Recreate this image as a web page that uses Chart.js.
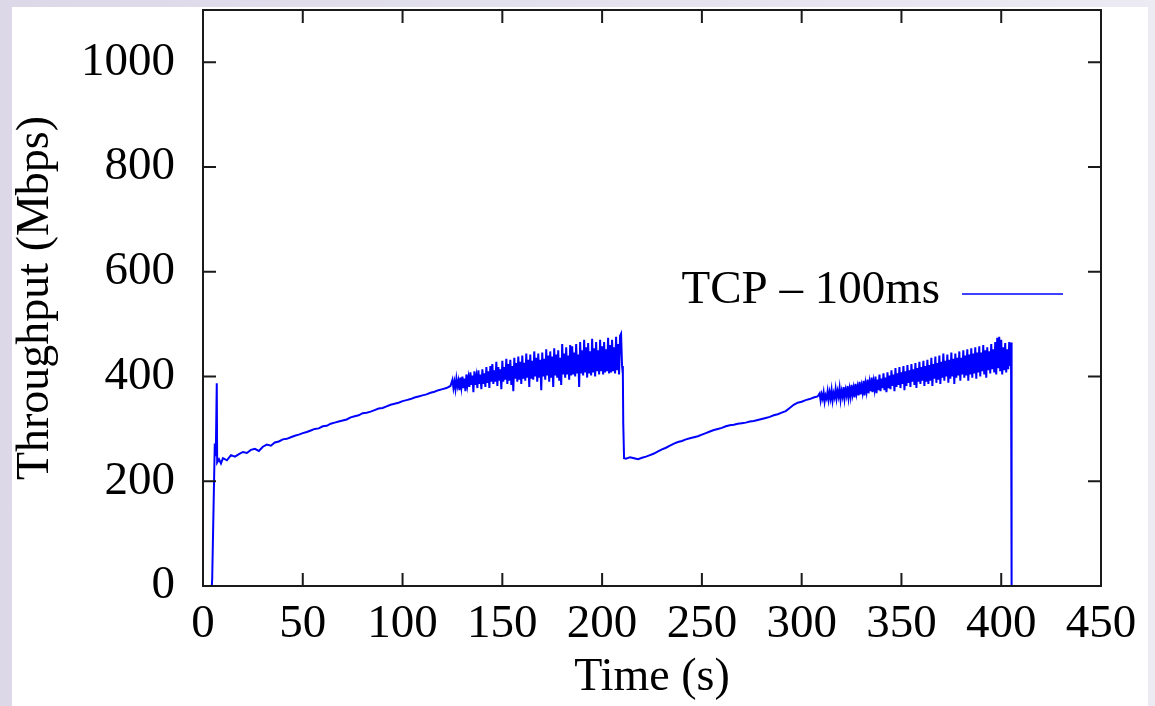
<!DOCTYPE html>
<html lang="en">
<head>
  <meta charset="UTF-8" />
  <title>TCP throughput</title>
  <script src="https://cdn.jsdelivr.net/npm/chart.js"></script>
  <style>
    body {
      margin: 0;
      padding: 0;
      width: 1155px;
      height: 706px;
      overflow: hidden;
      background: linear-gradient(90deg, #dcd8e8 0%, #e6e3ef 60%, #eceaf3 100%);
    }
    #paper {
      position: absolute;
      left: 12px;
      top: 7px;
      width: 1136px;
      height: 699px;
      background: #fff;
    }
    #chart {
      position: absolute;
      left: 0;
      top: 0;
    }
  </style>
</head>
<body>
  <div id="paper"></div>
  <canvas id="chart" width="1155" height="706"></canvas>

  <script>
    const seriesLabel = 'TCP \u2013 100ms';
    const xTicks = [0, 50, 100, 150, 200, 250, 300, 350, 400, 450];
    const yTicks = [0, 200, 400, 600, 800, 1000];

    // start-up spike (times in s, values in Mbps)
    const launchT = [4.4, 4.6, 5.9, 6.4, 6.9, 7.1, 8, 9];
    const launchV = [0, 12, 272, 248, 387, 236, 242, 234];

    // first slow ramp, every 2 s from t = 10 to 124
    const ramp1V = [
      244, 240, 250, 247, 252, 256, 254, 260, 262, 258, 266, 270, 268, 274, 276, 280, 281, 284, 287, 289,
      292, 294, 297, 300, 301, 305, 306, 310, 312, 314, 316, 318, 322, 324, 326, 330, 331, 333, 336, 339,
      340, 343, 346, 348, 350, 353, 355, 357, 360, 362, 364, 366, 369, 371, 374, 376, 378, 382
    ];

    // first noisy part, every 0.5 s from t = 125 to 209.5
    const noise1V = [
      394, 378, 390, 376, 396, 382, 392, 374, 398, 380,
      400, 378, 396, 372, 404, 384, 398, 380, 408, 384,
      402, 370, 410, 384, 400, 378, 412, 386, 404, 376,
      414, 386, 406, 380, 418, 388, 410, 378, 420, 390,
      424, 386, 412, 390, 428, 382, 418, 392, 414, 376,
      430, 390, 418, 394, 434, 386, 424, 392, 432, 384,
      420, 372, 436, 396, 426, 390, 438, 394, 428, 386,
      440, 396, 426, 392, 444, 398, 432, 380, 442, 396,
      430, 394, 448, 400, 436, 390, 444, 398, 432, 374,
      446, 400, 434, 394, 452, 402, 440, 390, 448, 398,
      438, 380, 454, 402, 442, 398, 450, 392, 436, 384,
      462, 404, 444, 398, 456, 404, 440, 394, 460, 402,
      458, 404, 446, 400, 462, 406, 442, 380, 466, 406,
      450, 402, 470, 408, 456, 398, 464, 406, 448, 402,
      472, 408, 454, 400, 466, 410, 450, 404, 470, 410,
      458, 404, 466, 408, 452, 410, 474, 406, 460, 408,
      470, 410, 456, 406, 476, 412, 462, 404, 478, 482
    ];

    // first drop
    const drop1T = [210, 210.4, 210.6, 211];
    const drop1V = [420, 405, 310, 244];

    // second slow ramp, every 2 s from t = 212 to 308
    const ramp2V = [
      243, 246, 244, 242, 245, 247, 250, 253, 257, 261, 264, 268, 272, 275, 277, 280,
      282, 284, 286, 289, 292, 295, 298, 300, 302, 305, 307, 308, 310, 311, 312, 314,
      315, 317, 319, 321, 323, 326, 328, 331, 334, 340, 346, 350, 352, 355, 357, 360, 362
    ];

    // second noisy part, every 0.5 s from t = 309 to 404.5
    const noise2V = [
      368, 354, 366, 358, 370, 352, 364, 358, 372, 356,
      370, 358, 374, 354, 368, 360, 376, 358, 372, 362,
      378, 356, 372, 362, 380, 358, 374, 364, 382, 360,
      376, 362, 384, 366, 378, 360, 386, 368, 380, 364,
      390, 366, 382, 370, 392, 364, 386, 372, 394, 368,
      388, 372, 398, 370, 390, 376, 400, 368, 394, 374,
      404, 372, 396, 378, 406, 374, 398, 370, 408, 378,
      402, 376, 412, 382, 404, 372, 416, 380, 406, 384,
      418, 378, 408, 386, 420, 374, 410, 382, 422, 388,
      412, 380, 424, 390, 414, 384, 426, 378, 416, 390,
      428, 386, 418, 392, 430, 382, 420, 390, 432, 386,
      422, 392, 436, 382, 424, 396, 438, 388, 426, 394,
      440, 386, 428, 398, 444, 392, 430, 400, 442, 388,
      432, 396, 446, 400, 434, 386, 444, 398, 436, 402,
      448, 392, 436, 404, 450, 398, 440, 402, 452, 392,
      442, 404, 454, 398, 444, 406, 456, 396, 446, 408,
      458, 400, 446, 410, 460, 404, 450, 398, 456, 412,
      448, 406, 462, 414, 452, 408, 466, 404, 474, 416,
      476, 410, 470, 404, 456, 412, 464, 408, 452, 414,
      466, 420
    ];

    // end of transfer
    const endT = [404.9, 405.1, 405.3];
    const endV = [465, 420, 0];

    function listed(ts, vs) {
      return ts.map((t, i) => ({ x: t, y: vs[i] }));
    }
    function sampled(start, step, vs) {
      return vs.map((v, i) => ({ x: start + i * step, y: v }));
    }

    const points = [].concat(
      listed(launchT, launchV),
      sampled(10, 2, ramp1V),
      sampled(125, 0.5, noise1V),
      listed(drop1T, drop1V),
      sampled(212, 2, ramp2V),
      sampled(309, 0.5, noise2V),
      listed(endT, endV)
    );

    const FONT = 'Liberation Serif';

    // gnuplot-style frame, inward ticks on all four sides, and legend sample
    const framePlugin = {
      id: 'frame',
      afterDatasetsDraw(chart) {
        const { ctx, chartArea: a, scales } = chart;
        const tl = 13;
        ctx.save();
        ctx.strokeStyle = '#1a1a1a';
        ctx.lineWidth = 2;
        ctx.beginPath();
        xTicks.forEach(v => {
          const px = scales.x.getPixelForValue(v);
          ctx.moveTo(px, a.bottom); ctx.lineTo(px, a.bottom - tl);
          ctx.moveTo(px, a.top); ctx.lineTo(px, a.top + tl);
        });
        yTicks.forEach(v => {
          const py = scales.y.getPixelForValue(v);
          ctx.moveTo(a.left, py); ctx.lineTo(a.left + tl, py);
          ctx.moveTo(a.right, py); ctx.lineTo(a.right - tl, py);
        });
        ctx.stroke();
        ctx.strokeRect(a.left, a.top, a.right - a.left, a.bottom - a.top);

        // legend
        const ds = chart.data.datasets[0];
        ctx.font = '47px "' + FONT + '"';
        ctx.fillStyle = '#000';
        ctx.textAlign = 'right';
        ctx.textBaseline = 'alphabetic';
        ctx.fillText(ds.label, 940, 303);
        ctx.strokeStyle = ds.borderColor;
        ctx.lineWidth = 1.5;
        ctx.beginPath();
        ctx.moveTo(962, 294);
        ctx.lineTo(1063, 294);
        ctx.stroke();
        ctx.restore();
      }
    };

    const ctx = document.getElementById('chart').getContext('2d');
    const chart = new Chart(ctx, {
      type: 'line',
      data: {
        datasets: [{
          label: seriesLabel,
          data: points,
          borderColor: '#0000ff',
          borderWidth: 2,
          pointRadius: 0,
          tension: 0,
          fill: false
        }]
      },
      options: {
        responsive: false,
        animation: false,
        layout: { padding: { left: 0, top: 10, right: 54, bottom: 0 } },
        plugins: {
          legend: { display: false },
          tooltip: { enabled: false }
        },
        scales: {
          x: {
            type: 'linear',
            min: 0,
            max: 450,
            afterBuildTicks: s => { s.ticks = xTicks.map(v => ({ value: v })); },
            afterFit: s => { s.height = 120; s.paddingLeft = 0; s.paddingRight = 0; },
            grid: { display: false, drawTicks: false },
            border: { display: false },
            ticks: {
              color: '#000',
              padding: 10,
              maxRotation: 0,
              callback: v => String(v),
              font: { family: FONT, size: 47 }
            },
            title: {
              display: true,
              text: 'Time (s)',
              color: '#000',
              padding: { top: 0, bottom: 0 },
              font: { family: FONT, size: 46 }
            }
          },
          y: {
            min: 0,
            max: 1100,
            afterBuildTicks: s => { s.ticks = yTicks.map(v => ({ value: v })); },
            afterFit: s => { s.width = 203; s.paddingTop = 0; s.paddingBottom = 0; },
            grid: { display: false, drawTicks: false },
            border: { display: false },
            ticks: {
              color: '#000',
              padding: 28,
              callback: v => String(v),
              font: { family: FONT, size: 47 }
            },
            title: {
              display: true,
              text: 'Throughput (Mbps)',
              color: '#000',
              padding: { top: 8, bottom: 0 },
              font: { family: FONT, size: 46 }
            }
          }
        }
      },
      plugins: [framePlugin]
    });
  </script>
</body>
</html>
